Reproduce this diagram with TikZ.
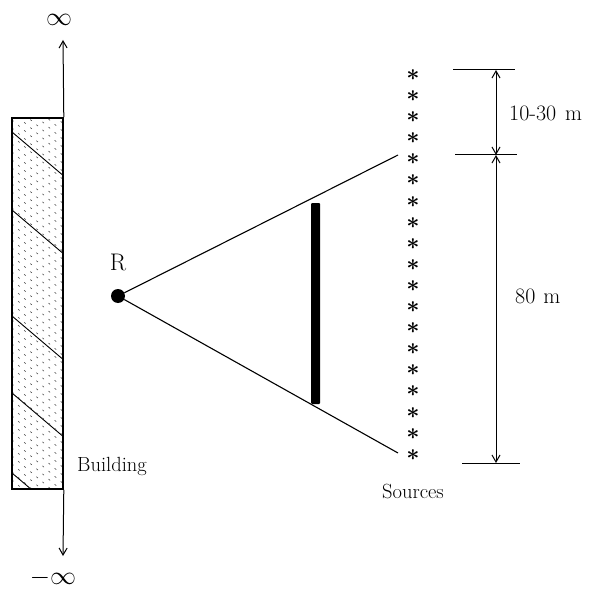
\RequirePackage{fix-cm}
\documentclass[tikz,border=0pt]{standalone}
\usepackage{fontspec}
\usetikzlibrary{arrows.meta}
\begin{document}
\begin{tikzpicture}[x=1pt,y=-1pt,
  lbl/.style={inner sep=0pt,font=\fontsize{20.5}{24}\selectfont},
  dimlbl/.style={inner sep=0pt,font=\fontsize{22}{24}\selectfont},
  inflbl/.style={inner sep=0pt,font=\fontsize{26}{26}\selectfont},
  dimarrow/.style={line width=1pt,{Straight Barb[length=7pt,width=8pt]}-{Straight Barb[length=7pt,width=8pt]}},
  infarrow/.style={line width=1pt,-{Straight Barb[length=7pt,width=8pt]}},
  ray/.style={line width=1.1pt},
  dimline/.style={line width=1pt},
  src/.style={inner sep=0pt,font=\fontsize{23}{23}\selectfont\boldmath}]
\useasboundingbox (0,0) rectangle (597,591);
% building
\node[draw,line width=1.6pt,minimum width=51pt,minimum height=371pt,inner sep=0pt] (bld) at (37.5,303.5) {};
\begin{scope}
\clip (12,118) rectangle (63,489);
\foreach \y in {132,210,316,393,473} \draw[line width=0.9pt] (12,\y) -- ++(60,51);
\foreach \y in {-40,-32,...,500} \draw[line width=0.6pt,dash pattern=on 2pt off 6pt,gray!60!black] (12,\y) -- ++(60,51);
\end{scope}
\node[draw,line width=1.6pt,minimum width=51pt,minimum height=371pt,inner sep=0pt] at (37.5,303.5) {};
\node[lbl,anchor=west] (bt) at (77,466) {Building};
% infinity arrows
\coordinate (itop) at (63,40);
\coordinate (ibot) at (63,556);
\draw[infarrow] (bld.north east) -- (itop);
\draw[infarrow] (bld.south east) -- (ibot);
\node[inflbl] (inf) at (59,20) {$\infty$};
\node[inflbl] (minf) at (53,578) {$-\infty$};
% receiver
\node[circle,fill=black,inner sep=0pt,minimum size=14pt] (R) at (118,296) {};
\node[inner sep=0pt,font=\fontsize{24}{26}\selectfont] (Rl) at (118,262) {R};
% sources
\foreach \i in {1,...,19} {
  \node[src] (s\i) at (413,{75+21.1*(\i-1)}) {$\ast$};
}
\node[lbl] (st) at (413,491) {Sources};
% rays
\coordinate (u) at (398,155);
\coordinate (l) at (398,453);
\draw[ray] (R) -- (u);
\draw[ray] (R) -- (l);
% barrier
\node[fill=black,minimum width=9pt,minimum height=201pt,inner sep=0pt,rounded corners=1pt] (bar) at (315.5,303.5) {};
% dimensions
\coordinate (t1) at (453,70); \coordinate (t2) at (515,70);
\coordinate (m1) at (455,155); \coordinate (m2) at (517,155);
\coordinate (b1) at (462,463); \coordinate (b2) at (520,463);
\draw[dimline] (t1) -- (t2);
\draw[dimline] (m1) -- (m2);
\draw[dimline] (b1) -- (b2);
\coordinate (at) at (496,70); \coordinate (am) at (496,155); \coordinate (ab) at (496,463);
\draw[dimarrow] (at) -- (am);
\draw[dimarrow] (am) -- (ab);
\node[dimlbl,anchor=west] (d1) at (509,113) {10-30\hspace{9pt}m};
\node[dimlbl,anchor=west] (d2) at (515,296) {80\hspace{8pt}m};
\end{tikzpicture}
\end{document}
